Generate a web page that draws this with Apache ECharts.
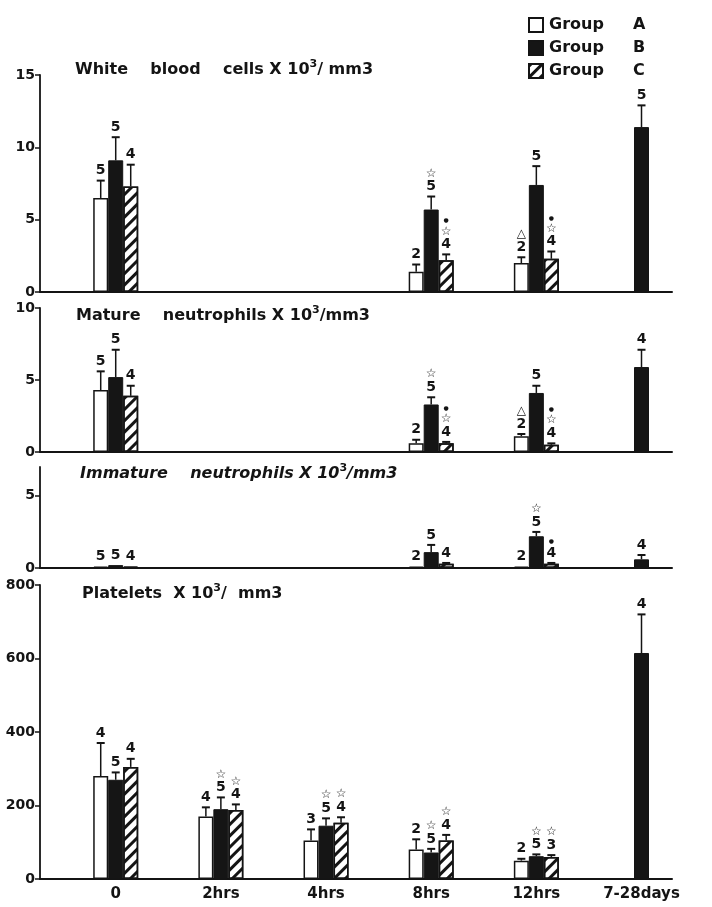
<!DOCTYPE html>
<html><head><meta charset="utf-8">
<script src="https://cdn.jsdelivr.net/npm/echarts@6/dist/echarts.min.js"></script>
<style>html,body{margin:0;padding:0;background:#fff}#c{width:712px;height:907px}</style>
</head><body><div id="c"></div>
<script>
const categories = ['0', '2hrs', '4hrs', '8hrs', '12hrs', '7-28days'];
const groups = ['Group A', 'Group B', 'Group C'];

// White blood cells x10^3/mm3 (mean, SEM, n/significance labels)
const wbcA = [6.5, null, null, 1.4, 2.0, null];
const wbcB = [9.1, null, null, 5.7, 7.4, 11.4];
const wbcC = [7.3, null, null, 2.2, 2.3, null];
const wbcSemA = [1.2, null, null, 0.5, 0.4, null];
const wbcSemB = [1.6, null, null, 0.9, 1.3, 1.5];
const wbcSemC = [1.5, null, null, 0.4, 0.5, null];
const wbcLabA = ['5', '', '', '2', '△\n2', ''];
const wbcLabB = ['5', '', '', '☆\n5', '5', '5'];
const wbcLabC = ['4', '', '', '•\n☆\n4', '•\n☆\n4', ''];

// Mature neutrophils
const matA = [4.3, null, null, 0.6, 1.1, null];
const matB = [5.2, null, null, 3.3, 4.1, 5.9];
const matC = [3.9, null, null, 0.6, 0.5, null];
const matSemA = [1.3, null, null, 0.25, 0.15, null];
const matSemB = [1.9, null, null, 0.5, 0.5, 1.2];
const matSemC = [0.7, null, null, 0.1, 0.1, null];
const matLabA = ['5', '', '', '2', '△\n2', ''];
const matLabB = ['5', '', '', '☆\n5', '5', '4'];
const matLabC = ['4', '', '', '•\n☆\n4', '•\n☆\n4', ''];

// Immature neutrophils
const immA = [0.1, null, null, 0.1, 0.1, null];
const immB = [0.2, null, null, 1.1, 2.2, 0.6];
const immC = [0.1, null, null, 0.3, 0.3, null];
const immSemA = [0, null, null, 0, 0, null];
const immSemB = [0, null, null, 0.5, 0.3, 0.3];
const immSemC = [0, null, null, 0.05, 0.05, null];
const immLabA = ['5', '', '', '2', '2', ''];
const immLabB = ['5', '', '', '5', '☆\n5', '4'];
const immLabC = ['4', '', '', '4', '•\n4', ''];

// Platelets
const pltA = [280, 170, 105, 80, 50, null];
const pltB = [270, 190, 145, 72, 62, 615];
const pltC = [305, 188, 153, 105, 60, null];
const pltSemA = [90, 25, 30, 28, 5, null];
const pltSemB = [20, 32, 20, 10, 5, 105];
const pltSemC = [22, 15, 15, 15, 5, null];
const pltLabA = ['4', '4', '3', '2', '2', ''];
const pltLabB = ['5', '☆\n5', '☆\n5', '☆\n5', '☆\n5', '4'];
const pltLabC = ['4', '☆\n4', '☆\n4', '☆\n4', '☆\n3', ''];

const wbcTicks = [0, 5, 10, 15];
const matTicks = [0, 5, 10];
const immTicks = [0, 5];
const pltTicks = [0, 200, 400, 600, 800];

const FONT = 'DejaVu Sans';
const INK = '#141414';
const BW = 15;

const panels = [
  { title: '{t|White    blood    cells X 10}{sup|3}{t|/ mm3}', italic: false, titleLeft: 75, titleTop: 58,
    top: 75, height: 217, max: 15, ticks: wbcTicks,
    vals: [wbcA, wbcB, wbcC], sems: [wbcSemA, wbcSemB, wbcSemC], labs: [wbcLabA, wbcLabB, wbcLabC] },
  { title: '{t|Mature    neutrophils X 10}{sup|3}{t|/mm3}', italic: false, titleLeft: 76, titleTop: 304,
    top: 308, height: 144, max: 10, ticks: matTicks,
    vals: [matA, matB, matC], sems: [matSemA, matSemB, matSemC], labs: [matLabA, matLabB, matLabC] },
  { title: '{t|Immature    neutrophils X 10}{sup|3}{t|/mm3}', italic: true, titleLeft: 80, titleTop: 462,
    top: 467, height: 101, max: 7, ticks: immTicks,
    vals: [immA, immB, immC], sems: [immSemA, immSemB, immSemC], labs: [immLabA, immLabB, immLabC] },
  { title: '{t|Platelets  X 10}{sup|3}{t|/  mm3}', italic: false, titleLeft: 82, titleTop: 582,
    top: 585, height: 294, max: 800, ticks: pltTicks,
    vals: [pltA, pltB, pltC], sems: [pltSemA, pltSemB, pltSemC], labs: [pltLabA, pltLabB, pltLabC] }
];

const barStyles = [
  { color: '#ffffff', borderColor: INK, borderWidth: 1.5 },
  { color: '#151515', borderColor: INK, borderWidth: 1 },
  { color: '#ffffff', borderColor: INK, borderWidth: 1.5,
    decal: { symbol: 'rect', symbolSize: 1, color: INK, dashArrayX: [1, 0], dashArrayY: [3, 5], rotation: -Math.PI / 4 } }
];

function richLabel(s) {
  return s.split('\n').map(l => /\d/.test(l) ? '{n|' + l + '}' : (l === '•' ? '{d|●}' : '{s|' + l + '}')).join('\n');
}

function errRender(offset, labels) {
  return function (params, api) {
    const m = api.value(1);
    if (isNaN(m)) return;
    const s = api.value(2) || 0;
    const base = api.coord([api.value(0), m]);
    const top = api.coord([api.value(0), m + s]);
    const cx = base[0] + offset;
    const children = [];
    if (s > 0) {
      children.push({ type: 'line', shape: { x1: cx, y1: base[1], x2: cx, y2: top[1] }, style: { stroke: INK, lineWidth: 1.5 } });
      children.push({ type: 'line', shape: { x1: cx - 4, y1: top[1], x2: cx + 4, y2: top[1] }, style: { stroke: INK, lineWidth: 2 } });
    }
    const lab = labels[params.dataIndex];
    if (lab) {
      children.push({ type: 'text', style: {
        text: richLabel(lab), x: cx, y: top[1] - 3, align: 'center', verticalAlign: 'bottom', fill: INK,
        rich: { n: { fontFamily: FONT, fontWeight: 'bold', fontSize: 14, lineHeight: 14, fill: INK },
                s: { fontFamily: FONT, fontWeight: 'bold', fontSize: 12, lineHeight: 12, fill: INK },
                d: { fontFamily: FONT, fontSize: 6, lineHeight: 9, fill: INK } } } });
    }
    return { type: 'group', children };
  };
}

const grid = [], xAxis = [], yAxis = [], series = [], title = [];
const XMIN = -0.72, XMAX = 5.29;
panels.forEach((p, k) => {
  grid.push({ left: 40, width: 632, top: p.top, height: p.height });
  const last = k === panels.length - 1;
  xAxis.push({ type: 'value', gridIndex: k, min: XMIN, max: XMAX, splitLine: { show: false },
    axisLine: { show: true, onZero: false, lineStyle: { color: INK, width: 2 } }, axisTick: { show: false },
    axisLabel: last ? { show: true, customValues: categories.map((c, i) => i), formatter: v => categories[Math.round(v)],
      fontFamily: FONT, fontWeight: 'bold', fontSize: 15, color: INK, margin: 8 } : { show: false } });
  yAxis.push({ type: 'value', gridIndex: k, min: 0, max: p.max, splitLine: { show: false },
    axisLine: { show: true, onZero: false, lineStyle: { color: INK, width: 1.8 } },
    axisTick: { show: true, length: 5, customValues: p.ticks, lineStyle: { color: INK, width: 1.5 } },
    axisLabel: { customValues: p.ticks, fontFamily: FONT, fontWeight: 'bold', fontSize: 14, color: INK, margin: 5 } });
  title.push({ text: p.title, left: p.titleLeft, top: p.titleTop, padding: 0,
    textStyle: { rich: {
      t: { fontFamily: FONT, fontWeight: 'bold', fontStyle: p.italic ? 'italic' : 'normal', fontSize: 16, color: INK, lineHeight: 20, verticalAlign: 'bottom' },
      sup: { fontFamily: FONT, fontWeight: 'bold', fontSize: 11, color: INK, lineHeight: 20, verticalAlign: 'bottom', padding: [0, 0, 8, 0] } } } });
  p.vals.forEach((arr, g) => {
    series.push({ type: 'bar', name: groups[g], xAxisIndex: k, yAxisIndex: k, barWidth: BW, barGap: '0%',
      itemStyle: barStyles[g], data: categories.map((c, i) => [i, arr[i] == null ? '-' : arr[i]]) });
  });
  p.vals.forEach((arr, g) => {
    series.push({ type: 'custom', name: 'err' + k + g, xAxisIndex: k, yAxisIndex: k, z: 5, clip: false,
      encode: { x: 0, y: 1 }, renderItem: errRender((g - 1) * BW, p.labs[g]),
      data: categories.map((c, i) => [i, arr[i] == null ? '-' : arr[i], p.sems[g][i] == null ? 0 : p.sems[g][i]]) });
  });
});

const chart = echarts.init(document.getElementById('c'), null, { renderer: 'canvas' });
chart.setOption({
  backgroundColor: '#ffffff',
  animation: false,
  aria: { enabled: false, decal: { show: false } },
  title, grid, xAxis, yAxis, series,
  legend: { data: groups, orient: 'vertical', left: 523, top: 12, itemWidth: 14, itemHeight: 14, itemGap: 7,
    icon: 'rect', selectedMode: false,
    formatter: n => '{g|' + n.split(' ')[0] + '}{l|' + n.split(' ')[1] + '}',
    textStyle: { rich: {
      g: { fontFamily: FONT, fontWeight: 'bold', fontSize: 16, color: INK, width: 84, padding: [0, 0, 0, 1] },
      l: { fontFamily: FONT, fontWeight: 'bold', fontSize: 16, color: INK } } } }
});
</script></body></html>
